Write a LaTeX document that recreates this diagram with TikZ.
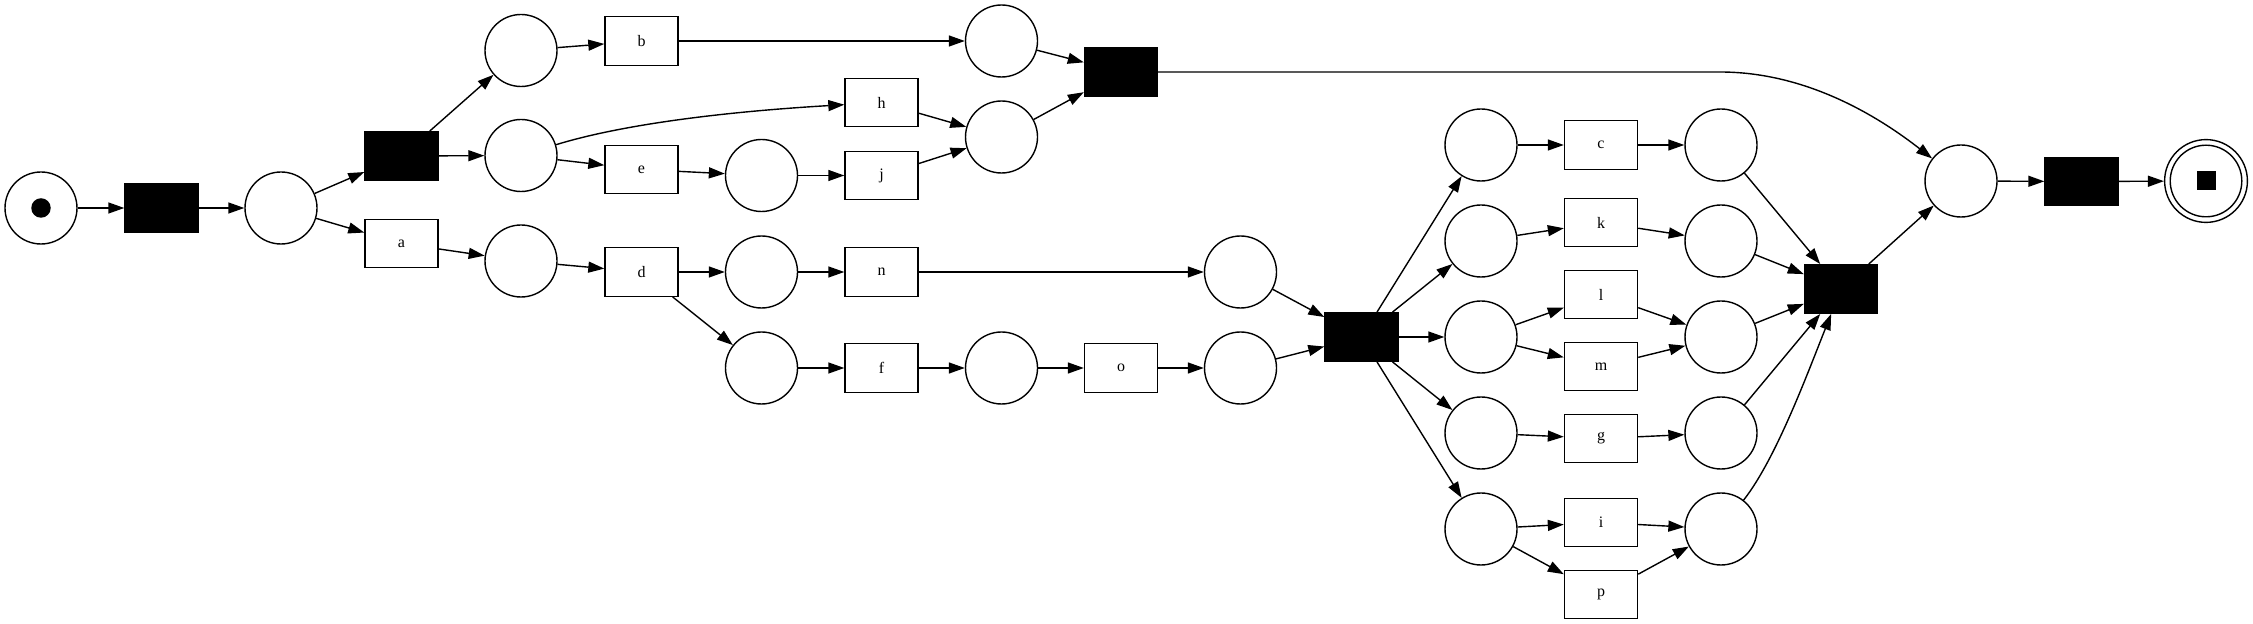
\documentclass[tikz,border=0pt]{standalone}
\usepackage{fontspec}
\setmainfont{Liberation Serif}
\usetikzlibrary{arrows.meta}
\begin{document}
\begin{tikzpicture}[x=0.5pt,y=-0.5pt,
  every path/.style={line width=0.7pt},
  place/.style={circle,draw,minimum size=36pt,inner sep=0pt},
  trans/.style={rectangle,draw,minimum width=36.5pt,minimum height=24.25pt,inner sep=0pt,font=\fontsize{8}{9}\selectfont},
  silent/.style={trans,fill=black},
  arc/.style={-{Triangle[length=8pt,width=5.5pt]}},
  tok/.style={circle,fill=black,minimum size=9.75pt,inner sep=0pt},
  endtok/.style={rectangle,fill=black,minimum size=9.5pt,inner sep=0pt}
]
\useasboundingbox (0,0) rectangle (2253,624);
% places
\node[place] (start) at (41,208) {};
\node[tok] (starttok) at (41,208) {};
\node[place] (p1) at (281,208) {};
\node[place] (pb) at (521,50.5) {};
\node[place] (p2) at (521,155.5) {};
\node[place] (p3) at (521,261) {};
\node[place] (pe) at (761.5,175.5) {};
\node[place] (pd1) at (761.5,272) {};
\node[place] (pd2) at (761.5,368) {};
\node[place] (pbb) at (1001.5,41) {};
\node[place] (phj) at (1001.5,137) {};
\node[place] (pf) at (1001.5,368) {};
\node[place] (pn) at (1240.5,272) {};
\node[place] (po) at (1240.5,368) {};
\node[place] (q1) at (1481,145) {};
\node[place] (q2) at (1481,241) {};
\node[place] (q3) at (1481,337) {};
\node[place] (q4) at (1481,433) {};
\node[place] (q5) at (1481,529) {};
\node[place] (r1) at (1721,145) {};
\node[place] (r2) at (1721,241) {};
\node[place] (r3) at (1721,337) {};
\node[place] (r4) at (1721,433) {};
\node[place] (r5) at (1721,529) {};
\node[place] (pend) at (1961,181) {};
\node[circle,draw,minimum size=41.4pt,inner sep=0pt] (final) at (2206,181) {};
\node[circle,draw,minimum size=35.8pt,inner sep=0pt] (finalin) at (2206,181) {};
\node[endtok] (finaltok) at (2206,181) {};
% transitions
\node[silent] (t1) at (161.5,208) {};
\node[silent] (t2) at (401.5,156) {};
\node[trans] (a) at (401.5,243.5) {a};
\node[trans] (b) at (641.5,41) {b};
\node[trans] (e) at (641.5,169.5) {e};
\node[trans] (d) at (641.5,272) {d};
\node[trans] (h) at (881.5,102.5) {h};
\node[trans] (j) at (881.5,175.5) {j};
\node[trans] (n) at (881.5,272) {n};
\node[trans] (f) at (881.5,368) {f};
\node[silent] (t3) at (1121,72) {};
\node[trans] (o) at (1121,368) {o};
\node[silent] (t4) at (1361.5,337) {};
\node[trans] (c) at (1601,145) {c};
\node[trans] (k) at (1601,222.5) {k};
\node[trans] (l) at (1601,294.5) {l};
\node[trans] (m) at (1601,366.5) {m};
\node[trans] (g) at (1601,438.5) {g};
\node[trans] (i) at (1601,522.5) {i};
\node[trans] (p) at (1601,594.5) {p};
\node[silent] (t5) at (1841,289) {};
\node[silent] (t6) at (2081.5,181.5) {};
\coordinate (bendA) at (1720,72);
% arcs
\draw[arc] (start) -- (t1);
\draw[arc] (t1) -- (p1);
\draw[arc] (p1) -- (t2);
\draw[arc] (p1) -- (a);
\draw[arc] (t2) -- (pb);
\draw[arc] (t2) -- (p2);
\draw[arc] (a) -- (p3);
\draw[arc] (pb) -- (b);
\draw[arc] (b) -- (pbb);
\draw[arc] (p2) .. controls (620,125) and (720,112) .. (h);
\draw[arc] (p2) -- (e);
\draw[arc] (e) -- (pe);
\draw[arc] (pe) -- (j);
\draw[arc] (h) -- (phj);
\draw[arc] (j) -- (phj);
\draw[arc] (pbb) -- (t3);
\draw[arc] (phj) -- (t3);
\draw[arc] (p3) -- (d);
\draw[arc] (d) -- (pd1);
\draw[arc] (d) -- (pd2);
\draw[arc] (pd1) -- (n);
\draw[arc] (n) -- (pn);
\draw[arc] (pd2) -- (f);
\draw[arc] (f) -- (pf);
\draw[arc] (pf) -- (o);
\draw[arc] (o) -- (po);
\draw[arc] (pn) -- (t4);
\draw[arc] (po) -- (t4);
\draw[arc] (t4) -- (q1);
\draw[arc] (t4) -- (q2);
\draw[arc] (t4) -- (q3);
\draw[arc] (t4) -- (q4);
\draw[arc] (t4) -- (q5);
\draw[arc] (q1) -- (c);
\draw[arc] (q2) -- (k);
\draw[arc] (q3) -- (l);
\draw[arc] (q3) -- (m);
\draw[arc] (q4) -- (g);
\draw[arc] (q5) -- (i);
\draw[arc] (q5) -- (p);
\draw[arc] (c) -- (r1);
\draw[arc] (k) -- (r2);
\draw[arc] (l) -- (r3);
\draw[arc] (m) -- (r3);
\draw[arc] (g) -- (r4);
\draw[arc] (i) -- (r5);
\draw[arc] (p) -- (r5);
\draw[arc] (r1) -- (t5);
\draw[arc] (r2) -- (t5);
\draw[arc] (r3) -- (t5);
\draw[arc] (r4) -- (t5);
\draw[arc] (r5) .. controls (1775,460) and (1805,380) .. (t5);
\draw[arc] (t5) -- (pend);
\draw[arc] (t3.east) -- (bendA) .. controls (1800,72) and (1870,110) .. (pend);
\draw[arc] (pend) -- (t6);
\draw[arc] (t6) -- (final);
\end{tikzpicture}
\end{document}
